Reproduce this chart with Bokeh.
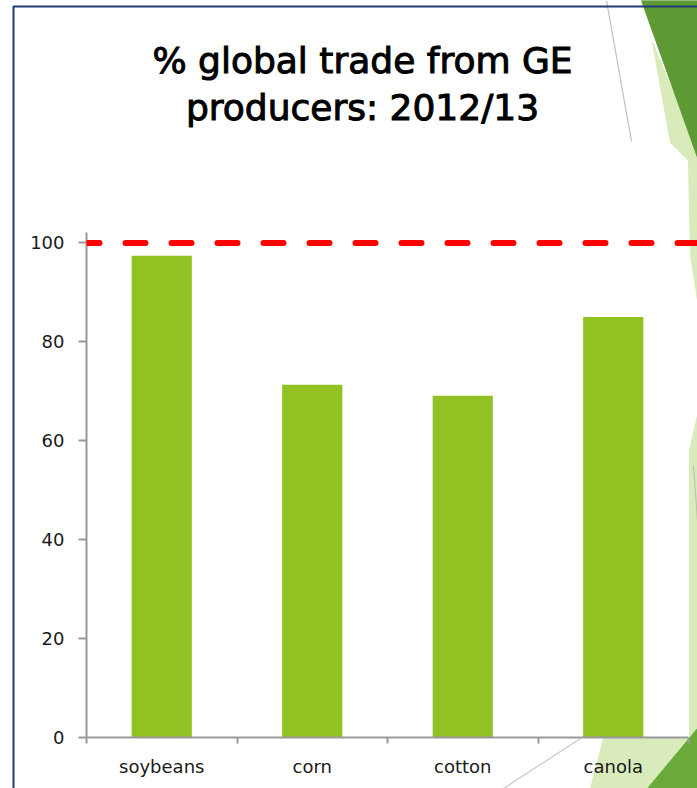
from bokeh.plotting import figure
from bokeh.layouts import column
from bokeh.models import Range1d, FixedTicker, Span
from bokeh.core.properties import value
from bokeh.embed import file_html
from bokeh.resources import INLINE

# ---- data ----
categories = ["soybeans", "corn", "cotton", "canola"]
share_ge = [97.4, 71.3, 69.1, 85.0]
reference_level = 100
y_ticks = [0, 20, 40, 60, 80, 100]
title_lines = ["% global trade from GE", "producers: 2012/13"]

n = len(categories)
x_pos = [i + 0.5 for i in range(n)]
W, H = 697, 788

# ---- background slide figure (frame = whole canvas, pixel coordinates) ----
bg = figure(width=W, height=H, output_backend="svg", toolbar_location=None,
            x_range=Range1d(0, W), y_range=Range1d(H, 0),
            x_axis_type=None, y_axis_type=None, min_border=0,
            min_border_left=0, min_border_right=0, min_border_top=0, min_border_bottom=0)
bg.outline_line_color = None
bg.grid.visible = False
light = "#d9eabb"
bg.patch([652, 670, 688, 690, 697, 697], [42, 142, 160, 255, 300, 150], color=light)
bg.patch([697, 689, 689, 603, 590, 697], [415, 450, 738, 738, 788, 788], color=light)
bg.patch([641, 697, 697], [0, 0, 157], color="#5e9a34")
bg.patch([647, 697, 697], [788, 728, 788], color="#6aaa3a")
bg.line([606, 631], [0, 141], color="#c0c0c0", line_width=1.2)
bg.line([580, 503], [738, 788], color="#c8c8c8", line_width=1.2)
bg.line([693, 697], [465, 520], color="#b8c8a8", line_width=1.2)
bg.line([13, 13, 697], [788, 6, 6], color="#1f3a78", line_width=2)
bg.text(x=[362, 362], y=[60, 107], text=title_lines, text_align="center",
        text_baseline="alphabetic", text_font=value("DejaVu Sans"),
        text_font_size="36px", text_color="black", text_outline_color="black")

# ---- chart figure, overlaid ----
p = figure(width=W, height=H, output_backend="svg", toolbar_location=None,
           x_range=Range1d(0, n * 611 / 602), y_range=Range1d(0, 102.1),
           min_border_left=86, min_border_right=0, min_border_top=232,
           min_border_bottom=51)
p.background_fill_alpha = 0
p.border_fill_alpha = 0
p.outline_line_color = None
p.grid.visible = False

p.vbar(x=x_pos, top=share_ge, width=0.4, bottom=0, color="#92C124", line_color=None)

p.add_layout(Span(location=reference_level, dimension="width", line_color="#ff0000",
                  line_width=6, line_dash="20 26", line_dash_offset=7, line_cap="round"))

xa = p.xaxis[0]
xa.ticker = FixedTicker(ticks=x_pos, minor_ticks=list(range(n + 1)))
xa.major_label_overrides = {x: c for x, c in zip(x_pos, categories)}
xa.bounds = (0, n)
xa.major_tick_out = 0
xa.major_tick_in = 0
xa.minor_tick_out = 6
xa.minor_tick_in = 0
xa.minor_tick_line_color = "#999999"
xa.minor_tick_line_width = 2
xa.axis_line_color = "#999999"
xa.axis_line_width = 2
xa.major_label_text_font = "DejaVu Sans"
xa.major_label_text_font_size = "18px"
xa.major_label_text_color = "#1a1a1a"
xa.major_label_standoff = 12

ya = p.yaxis[0]
ya.ticker = FixedTicker(ticks=y_ticks, minor_ticks=[])
ya.major_tick_out = 8
ya.major_tick_in = 0
ya.major_tick_line_color = "#999999"
ya.major_tick_line_width = 2
ya.axis_line_color = "#999999"
ya.axis_line_width = 2
ya.major_label_text_font = "DejaVu Sans"
ya.major_label_text_font_size = "18px"
ya.major_label_text_color = "#1a1a1a"
ya.major_label_standoff = 14

inner = column(p, width=W, height=H)
inner.styles = {"position": "absolute", "top": "0px", "left": "0px"}
layout = column(bg, inner, width=W, height=H)
layout.styles = {"position": "relative"}
open("out.html", "w").write(file_html(layout, INLINE))
